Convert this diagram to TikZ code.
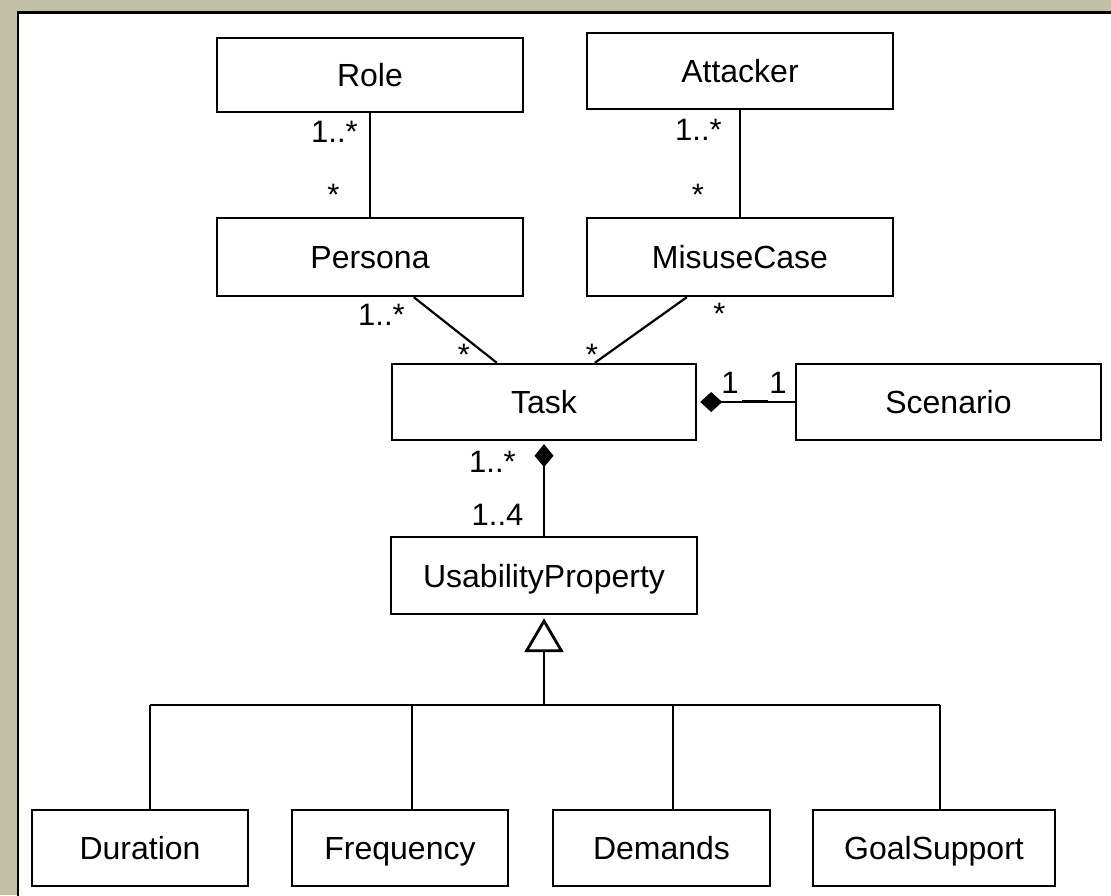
\documentclass[tikz,border=0pt]{standalone}
\usepackage{fontspec}
\setmainfont{Liberation Sans}
\usetikzlibrary{arrows.meta}
\definecolor{framebg}{RGB}{194,193,167}
\begin{document}
\begin{tikzpicture}[x=1pt,y=-1pt,
  cls/.style={draw, line width=2.4pt, fill=white, inner sep=0pt,
    text height=23pt, text depth=0pt, font=\fontsize{32}{38}\selectfont},
  mult/.style={anchor=base, inner sep=0pt, font=\fontsize{31}{37}\selectfont},
  link/.style={line width=2.2pt}]
\useasboundingbox (0,0) rectangle (1111,895);
% window frame
\fill[framebg] (0,0) rectangle (1111,895);
\fill[white] (18,12.3) rectangle (1111,895);
\draw[line width=2.7pt] (18,896) -- (18,12.3) -- (1112,12.3);

% classes
\node[cls, minimum width=306pt, minimum height=74pt] (role) at (370,75) {Role};
\node[cls, minimum width=306pt, minimum height=76pt] (attacker) at (740,71) {Attacker};
\node[cls, minimum width=306pt, minimum height=78pt] (persona) at (370,257) {Persona};
\node[cls, minimum width=306pt, minimum height=78pt] (misuse) at (740,257) {MisuseCase};
\node[cls, minimum width=304pt, minimum height=76pt] (task) at (544,402) {Task};
\node[cls, minimum width=305pt, minimum height=76pt] (scenario) at (948.5,402) {Scenario};
\node[cls, minimum width=306pt, minimum height=77pt] (usab) at (544,575.5) {UsabilityProperty};
\node[cls, minimum width=216pt, minimum height=76pt] (duration) at (140,848) {Duration};
\node[cls, minimum width=216pt, minimum height=76pt] (frequency) at (400,848) {Frequency};
\node[cls, minimum width=217pt, minimum height=76pt] (demands) at (661.5,848) {Demands};
\node[cls, minimum width=242pt, minimum height=76pt] (goal) at (934,848) {GoalSupport};

% associations
\draw[link] (role.south) -- (persona.north);
\draw[link] (attacker.south) -- (misuse.north);
\draw[link] ([xshift=198pt]persona.south west) -- ([xshift=106pt]task.north west);
\draw[link] ([xshift=101pt]misuse.south west) -- ([xshift=204pt]task.north west);

% compositions
\draw[link, -{Diamond[length=22pt,width=20pt]}, shorten >=3pt] (scenario.west) -- (task.east);
\draw[link] (742,401) -- (768,401);
\draw[link, -{Diamond[length=23pt,width=19pt]}, shorten >=3pt] (usab.north) -- (task.south);

% generalization
\coordinate (gen) at (544,705);
\coordinate (b1) at (150,705);
\coordinate (b2) at (412,705);
\coordinate (b3) at (673,705);
\coordinate (b4) at (940,705);
\draw[line width=2.8pt, -{Triangle[open,length=34pt,width=39pt]}, shorten >=3pt] (gen) -- (usab.south);
\draw[link] (b1) -- (b4);
\draw[link] (b1) -- (b1 |- duration.north);
\draw[link] (b2) -- (b2 |- frequency.north);
\draw[link] (b3) -- (b3 |- demands.north);
\draw[link] (b4) -- (b4 |- goal.north);

% multiplicities
\node[mult] (m1) at (334.5,142) {1..*};
\node[mult] (m2) at (333.5,205.5) {*};
\node[mult] (m3) at (698.5,140) {1..*};
\node[mult] (m4) at (698,205.5) {*};
\node[mult] (m5) at (381.5,325) {1..*};
\node[mult] (m6) at (464,365.5) {*};
\node[mult] (m7) at (719.5,324.5) {*};
\node[mult] (m8) at (592,365.5) {*};
\node[mult] (m9) at (730,393) {1};
\node[mult] (m10) at (778,393) {1};
\node[mult] (m11) at (492.5,472) {1..*};
\node[mult] (m12) at (497.5,525) {1..4};
\end{tikzpicture}
\end{document}
